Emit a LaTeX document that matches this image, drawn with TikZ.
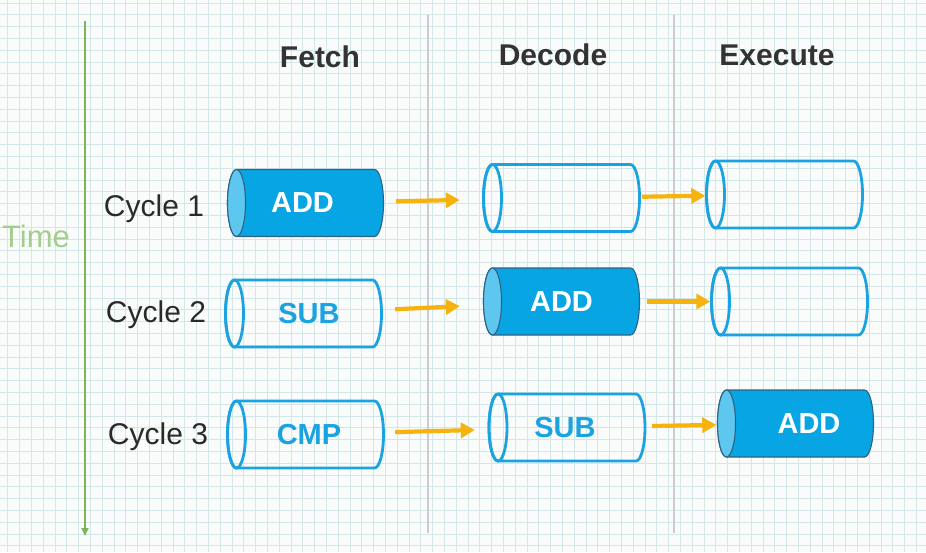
\documentclass[tikz,border=0pt]{standalone}
\usepackage{fontspec}
\setmainfont{Liberation Sans}
\usetikzlibrary{arrows.meta}
\definecolor{gridc}{HTML}{D3E7E8}
\definecolor{bgc}{HTML}{FAFCFC}
\definecolor{cylblue}{HTML}{1AA3E0}
\definecolor{cylfill}{HTML}{07A5E3}
\definecolor{cylend}{HTML}{5DC7EF}
\definecolor{cyledge}{HTML}{2E6286}
\definecolor{arrc}{HTML}{F5B30C}
\definecolor{sepc}{HTML}{CCCCCC}
\definecolor{timec}{HTML}{7CB55A}
\definecolor{timetext}{HTML}{A2CE8D}
\definecolor{headc}{HTML}{333333}
\definecolor{cyclec}{HTML}{2A2A2A}
% #1 name, #2 x, #3 y, #4 text, #5 text x-offset
\newcommand\CylEmpty[5]{%
  \draw[cylline] (#2-69,#3-33.5) -- (#2+69,#3-33.5) arc(-90:90:9 and 33.5)
    -- (#2-69,#3+33.5) arc(90:270:9 and 33.5) -- cycle;
  \draw[cylline] (#2-69,#3) ellipse (9 and 33.5);
  \node[cylbox] (#1) at (#2,#3) {};
  \node[cyltext, text=cylblue] (#1t) at (#2+#5,#3) {#4};
}
\newcommand\CylFull[5]{%
  \filldraw[cylfull] (#2-69,#3-33.5) -- (#2+69,#3-33.5) arc(-90:90:9 and 33.5)
    -- (#2-69,#3+33.5) arc(90:270:9 and 33.5) -- cycle;
  \filldraw[cylface] (#2-69,#3) ellipse (9 and 33.5);
  \node[cylbox] (#1) at (#2,#3) {};
  \node[cyltext, text=white] (#1t) at (#2+#5,#3) {#4};
}
\begin{document}
\begin{tikzpicture}[x=1pt,y=-1pt,
  cylline/.style={draw=cylblue, line width=2.8pt},
  cylfull/.style={draw=cyledge, fill=cylfill, line width=1.1pt},
  cylface/.style={draw=cyledge, fill=cylend, line width=1.1pt},
  cylbox/.style={minimum width=158pt, minimum height=67pt, inner sep=0pt},
  cyltext/.style={inner sep=0pt, font=\fontsize{29}{34}\selectfont\bfseries},
  flow/.style={draw=arrc, line width=4.2pt,
    -{Triangle[length=14pt,width=15pt]}},
  head/.style={text=headc, font=\fontsize{30}{36}\selectfont\bfseries},
  cyc/.style={text=cyclec, font=\fontsize{30}{36}\selectfont},
  sep/.style={draw=sepc, line width=1.2pt}
]
\fill[bgc] (0,0) rectangle (926,552);
\useasboundingbox (0,0) rectangle (926,552);
\foreach \i in {0,...,79} \draw[gridc, line width=0.8pt] (\i*11.8-4,0) -- (\i*11.8-4,552);
\foreach \j in {0,...,47} \draw[gridc, line width=0.8pt] (0,\j*11.8+3) -- (926,\j*11.8+3);

% separators and time axis
\draw[sep] (428,15) -- (428,533);
\draw[sep] (674,15) -- (674,533);
\coordinate (t0) at (85,21);
\coordinate (t1) at (85,536);
\draw[draw=timec, line width=1.8pt, -{Triangle[length=8pt,width=7pt]}] (t0) -- (t1);
\node[text=timetext, font=\fontsize{31}{37}\selectfont, inner sep=0pt] (time) at (36,236) {Time};

% headers
\node[head] (hf) at (320,57) {Fetch};
\node[head] (hd) at (553,55) {Decode};
\node[head] (he) at (777,55) {Execute};

% cycle labels
\node[cyc] (c1) at (154,209) {Cycle 1};
\node[cyc] (c2) at (156,315) {Cycle 2};
\node[cyc] (c3) at (158,437) {Cycle 3};

% row 1
\CylFull{f1}{305.5}{203}{ADD}{-3}
\CylEmpty{d1}{561.5}{198}{}{0}
\CylEmpty{e1}{784.5}{194.5}{}{0}
% row 2
\CylEmpty{f2}{303.5}{313.5}{SUB}{5.5}
\CylFull{d2}{561.5}{301.5}{ADD}{0}
\CylEmpty{e2}{789.5}{301.5}{}{0}
% row 3
\CylEmpty{f3}{305.5}{434.5}{CMP}{3.5}
\CylEmpty{d3}{567}{427.5}{SUB}{-2}
\CylFull{e3}{795.5}{423.5}{ADD}{13.5}

% arrows
\draw[flow, shorten <=11.5pt, shorten >=22.5pt] (f1) -- (d1);
\draw[flow, shorten <=1.5pt] (d1) -- (e1);
\draw[flow, shorten <=12.5pt, shorten >=22.5pt] (f2) -- (d2);
\draw[flow, shorten <=6.5pt] (d2) -- (e2);
\draw[flow, shorten <=10.5pt, shorten >=13pt] (f3) -- (d3);
\draw[flow, shorten <=6pt] (d3) -- (e3);
\end{tikzpicture}
\end{document}
